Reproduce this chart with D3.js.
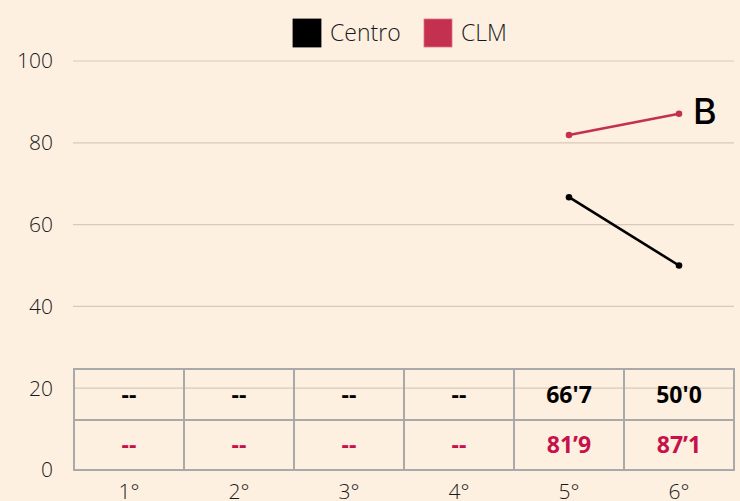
<!DOCTYPE html>
<html><head><meta charset="utf-8">
<script src="https://cdn.jsdelivr.net/npm/d3@7"></script>
<style>
html,body{margin:0;padding:0;background:#fdf0e1;}
svg{display:block;}
</style></head>
<body><svg id="c" width="740" height="501"></svg>
<script>
const categories = ["1°","2°","3°","4°","5°","6°"];
const centro = [null,null,null,null,66.7,50.0];
const clm = [null,null,null,null,81.9,87.1];
const centroLabels = ["--","--","--","--","66'7","50'0"];
const clmLabels = ["--","--","--","--","81’9","87’1"];
const yTicks = [0,20,40,60,80,100];
const seriesNames = ["Centro","CLM"];
const seriesColors = ["#000000","#c4304f"];
const tableColors = ["#000000","#c8104a"];
const groupLabel = "B";

const svg = d3.select("#c");
const x = d3.scaleBand().domain(categories).range([74,734]);
const y = d3.scaleLinear().domain([0,100]).range([470,61]);

// gridlines
svg.append("g").selectAll("line").data(yTicks).join("line")
  .attr("x1",73).attr("x2",734)
  .attr("y1",d=>y(d)).attr("y2",d=>y(d))
  .attr("stroke","#d8c9ba").attr("stroke-width",1.2);

// y tick labels
svg.append("g").selectAll("text").data(yTicks).join("text")
  .attr("x",53).attr("y",d=>y(d)).attr("dy","0.35em")
  .attr("text-anchor","end")
  .attr("font-family","Open Sans").attr("font-weight",300)
  .attr("font-size",21).attr("fill","#1a1a1a")
  .text(d=>d);

// x labels
svg.append("g").selectAll("text").data(categories).join("text")
  .attr("x",d=>x(d)+x.bandwidth()/2).attr("y",499)
  .attr("text-anchor","middle")
  .attr("font-family","Open Sans").attr("font-weight",300)
  .attr("font-size",21).attr("fill","#1a1a1a")
  .text(d=>d);

// table
const tTop = 369, tMid = 420, tBot = 470;
const tbl = svg.append("g");
tbl.append("rect").attr("x",74).attr("y",tTop).attr("width",660).attr("height",tBot-tTop)
  .attr("fill","none").attr("stroke","#a9a9a9").attr("stroke-width",2);
tbl.append("line").attr("x1",74).attr("x2",734).attr("y1",tMid).attr("y2",tMid)
  .attr("stroke","#a9a9a9").attr("stroke-width",2);
tbl.selectAll(".vl").data(categories.slice(1)).join("line").attr("class","vl")
  .attr("x1",d=>x(d)).attr("x2",d=>x(d)).attr("y1",tTop).attr("y2",tBot)
  .attr("stroke","#a9a9a9").attr("stroke-width",2);
[centroLabels, clmLabels].forEach((labs,i)=>{
  tbl.append("g").selectAll("text").data(labs).join("text")
    .attr("x",(d,j)=>x(categories[j])+x.bandwidth()/2)
    .attr("y",i===0 ? (tTop+tMid)/2 : (tMid+tBot)/2).attr("dy","0.36em")
    .attr("text-anchor","middle")
    .attr("font-family","Open Sans").attr("font-weight",700)
    .attr("font-size",23).attr("fill",tableColors[i])
    .text(d=>d);
});

// lines
[centro, clm].forEach((vals,i)=>{
  const pts = vals.map((v,j)=>({c:categories[j],v})).filter(d=>d.v!=null);
  const line = d3.line().x(d=>x(d.c)+x.bandwidth()/2).y(d=>y(d.v));
  svg.append("path").datum(pts).attr("d",line)
    .attr("fill","none").attr("stroke",seriesColors[i]).attr("stroke-width",2.6);
  svg.append("g").selectAll("circle").data(pts).join("circle")
    .attr("cx",d=>x(d.c)+x.bandwidth()/2).attr("cy",d=>y(d.v)).attr("r",3.3)
    .attr("fill",seriesColors[i]);
});

// group label
svg.append("text").attr("x",693).attr("y",124)
  .attr("font-family","Inter").attr("font-weight",500).attr("font-size",36)
  .attr("fill","#000").text(groupLabel);

// legend
const lg = svg.append("g");
const items = [{n:seriesNames[0],c:seriesColors[0],x:293},{n:seriesNames[1],c:seriesColors[1],x:424}];
items.forEach(it=>{
  lg.append("rect").attr("x",it.x).attr("y",19).attr("width",28).attr("height",28)
    .attr("fill",it.c).attr("stroke",it.c===seriesColors[1]?"#e07088":"#000").attr("stroke-width",0.8);
  lg.append("text").attr("x",it.x+37).attr("y",33).attr("dy","0.36em")
    .attr("font-family","Open Sans").attr("font-weight",300).attr("font-size",23)
    .attr("fill","#1a1a1a").text(it.n);
});
</script></body></html>
